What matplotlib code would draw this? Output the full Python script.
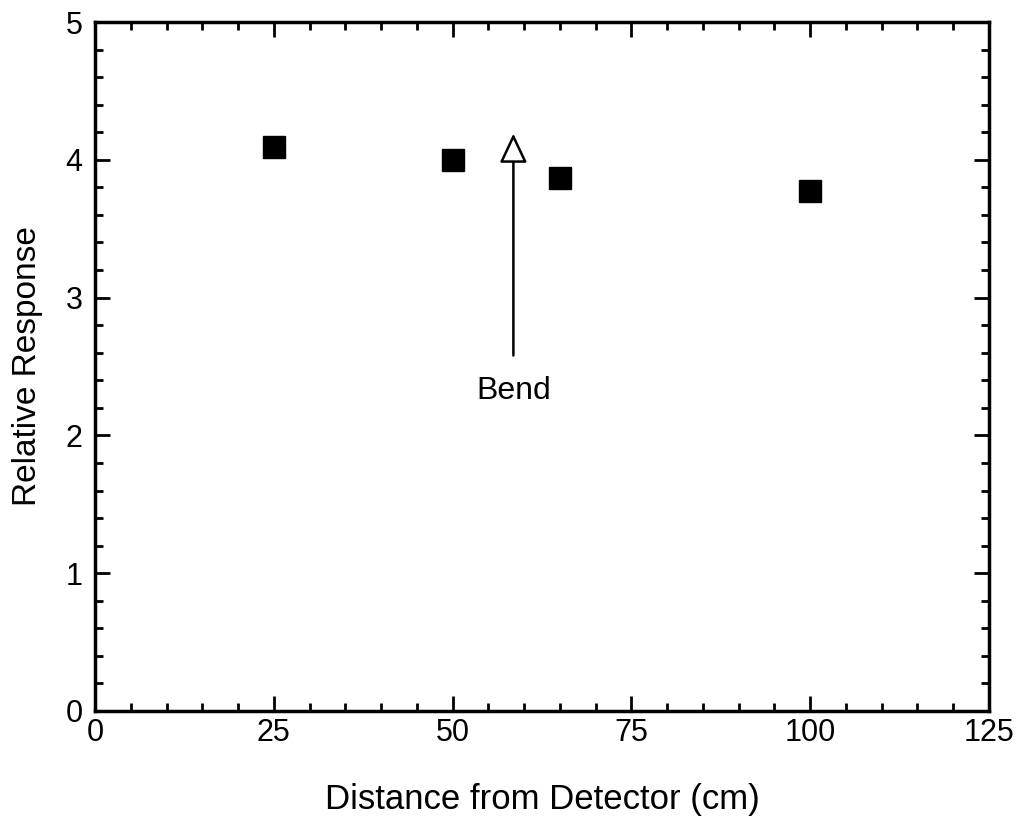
import matplotlib
matplotlib.use('Agg')
import matplotlib.pyplot as plt
from matplotlib.ticker import MultipleLocator

plt.rcParams['font.family'] = ['Liberation Sans', 'DejaVu Sans']

# data
distance = [25, 50, 65, 100]
response = [4.09, 4.0, 3.87, 3.77]

bend_x = 58.5
bend_tip = 4.19
bend_tail = 2.58
bend_label_y = 2.32

fig = plt.figure(figsize=(10.19, 8.18), dpi=100)
ax = fig.add_axes([95 / 1019, 1 - 711 / 818, 894 / 1019, 689 / 818])

ax.plot(distance, response, 's', color='black', markersize=16, linestyle='none')

ax.annotate('', xy=(bend_x, bend_tip), xytext=(bend_x, bend_tail),
            arrowprops=dict(arrowstyle='-|>,head_length=1.8,head_width=0.85',
                            facecolor='white', edgecolor='black', lw=1.8,
                            shrinkA=0, shrinkB=0))
ax.text(bend_x, bend_label_y, 'Bend', ha='center', va='center', fontsize=23)

ax.set_xlim(0, 125)
ax.set_ylim(0, 5)
ax.xaxis.set_major_locator(MultipleLocator(25))
ax.xaxis.set_minor_locator(MultipleLocator(5))
ax.yaxis.set_major_locator(MultipleLocator(1))
ax.yaxis.set_minor_locator(MultipleLocator(0.2))
ax.tick_params(which='both', direction='in', top=True, right=True, width=2)
ax.tick_params(which='major', length=11, labelsize=22)
ax.tick_params(axis='x', which='major', pad=5)
ax.tick_params(axis='y', which='major', pad=9)
ax.tick_params(which='minor', length=6)
for s in ax.spines.values():
    s.set_linewidth(2.5)

ax.set_xlabel('Distance from Detector (cm)', fontsize=25, labelpad=25)
ax.set_ylabel('Relative Response', fontsize=24, labelpad=16)

fig.savefig('out.png', dpi=100)
